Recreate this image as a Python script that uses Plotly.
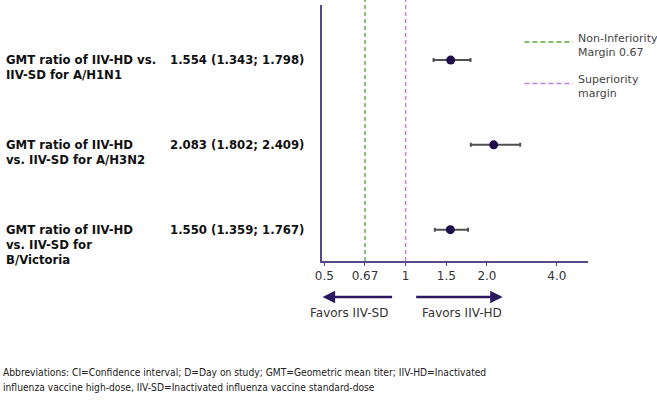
import plotly.graph_objects as go

# ---- data ----
rows = ["A/H1N1", "A/H3N2", "B/Victoria"]
row_labels = [
    "GMT ratio of IIV-HD vs.<br>IIV-SD for A/H1N1",
    "GMT ratio of IIV-HD<br>vs. IIV-SD for A/H3N2",
    "GMT ratio of IIV-HD<br>vs. IIV-SD for<br>B/Victoria",
]
gmt_ratio = [1.554, 2.083, 1.550]
ci_lower = [1.343, 1.802, 1.359]
ci_upper = [1.798, 2.409, 1.767]

tick_text = ["0.5", "0.67", "1", "1.5", "2.0", "4.0"]
tick_pos = [0, 0.5, 1, 1.5, 2, 2.86]

non_inferiority_label = "0.67"
superiority_label = "1"

footnote_lines = [
    "Abbreviations: CI=Confidence interval; D=Day on study; GMT=Geometric mean titer; IIV-HD=Inactivated",
    "influenza vaccine high-dose, IIV-SD=Inactivated influenza vaccine standard-dose",
]

FONT = "DejaVu Sans, Verdana, sans-serif"
FONT_NARROW = "DejaVu Sans Condensed, DejaVu Sans, sans-serif"
AXIS_COLOR = "#56488a"
DARK = "#2a1860"
GREEN = "#5aa83a"
PURPLE = "#c27ddc"

W, H = 657, 404
def px(x):
    return x / W
def py(y):
    return 1 - y / H

fig = go.Figure()

fig.add_trace(go.Scatter(
    x=gmt_ratio, y=rows, mode="markers",
    marker=dict(color="#1f0c4a", size=9),
    error_x=dict(type="data", symmetric=False,
                 array=[u - m for u, m in zip(ci_upper, gmt_ratio)],
                 arrayminus=[m - l for m, l in zip(gmt_ratio, ci_lower)],
                 color="#505050", thickness=2, width=2),
    showlegend=False, hoverinfo="skip",
))

# margin lines
ni_x = tick_pos[tick_text.index(non_inferiority_label)]
sup_x = tick_pos[tick_text.index(superiority_label)]
fig.add_shape(type="line", xref="x", yref="y domain", x0=ni_x, x1=ni_x, y0=0, y1=1.02,
              line=dict(color=GREEN, width=1.4, dash="4px,3px"))
fig.add_shape(type="line", xref="x", yref="y domain", x0=sup_x, x1=sup_x, y0=0, y1=1.02,
              line=dict(color=PURPLE, width=1.4, dash="4px,3px"))

# legend (custom)
fig.add_shape(type="line", xref="paper", yref="paper", x0=px(523), x1=px(572), y0=py(42), y1=py(42),
              line=dict(color=GREEN, width=1.4, dash="5px,3px"))
fig.add_shape(type="line", xref="paper", yref="paper", x0=px(523), x1=px(572), y0=py(83.5), y1=py(83.5),
              line=dict(color=PURPLE, width=1.4, dash="5px,3px"))
fig.add_annotation(x=px(575), y=py(46), xref="paper", yref="paper", xanchor="left", yanchor="middle",
                   text="Non-Inferiority<br>Margin 0.67", showarrow=False, align="left",
                   font=dict(family=FONT, size=11, color="#444444"))
fig.add_annotation(x=px(575), y=py(87), xref="paper", yref="paper", xanchor="left", yanchor="middle",
                   text="Superiority<br>margin", showarrow=False, align="left",
                   font=dict(family=FONT, size=11, color="#444444"))

# row labels and value labels
for r, lab, m, l, u in zip(rows, row_labels, gmt_ratio, ci_lower, ci_upper):
    fig.add_annotation(x=px(-3), y=r, xref="paper", yref="y", xanchor="left", yanchor="top",
                       yshift=9, text="<b>%s</b>" % lab, showarrow=False, align="left",
                       font=dict(family=FONT, size=11.7, color="#111111"))
    fig.add_annotation(x=px(232), y=r, xref="paper", yref="y", xanchor="center", yanchor="middle",
                       yshift=0, text="<b>%.3f (%.3f; %.3f)</b>" % (m, l, u), showarrow=False,
                       font=dict(family=FONT, size=11.7, color="#111111"))

# favors arrows
fig.add_annotation(x=px(319), y=py(297), ax=71, ay=0, xref="paper", yref="paper",
                   axref="pixel", ayref="pixel", showarrow=True, arrowhead=2, arrowsize=1,
                   arrowwidth=2.5, arrowcolor=DARK, text="")
fig.add_annotation(x=px(501), y=py(297), ax=-88, ay=0, xref="paper", yref="paper",
                   axref="pixel", ayref="pixel", showarrow=True, arrowhead=2, arrowsize=1,
                   arrowwidth=2.5, arrowcolor=DARK, text="")
fig.add_annotation(x=px(346), y=py(313), xref="paper", yref="paper", text="Favors IIV-SD",
                   xanchor="center", yanchor="middle",
                   showarrow=False, font=dict(family=FONT, size=12, color="#333333"))
fig.add_annotation(x=px(460), y=py(313), xref="paper", yref="paper", text="Favors IIV-HD",
                   xanchor="center", yanchor="middle",
                   showarrow=False, font=dict(family=FONT, size=12, color="#333333"))

# footnote
for i, line in enumerate(footnote_lines):
    fig.add_annotation(x=px(-6), y=py(372 + 15 * i), xref="paper", yref="paper", xanchor="left",
                       yanchor="middle", align="left", showarrow=False, text=line,
                       font=dict(family=FONT_NARROW, size=10.2, color="#222222"))

fig.update_layout(
    width=W, height=H,
    margin=dict(l=0, r=0, t=0, b=0),
    paper_bgcolor="white", plot_bgcolor="white",
    xaxis=dict(domain=[px(318.3), px(587)], range=[-0.03, 3.24],
               tickvals=tick_pos, ticktext=tick_text,
               showgrid=False, zeroline=False, showline=True, linecolor=AXIS_COLOR, linewidth=2,
               ticks="outside", ticklen=3, tickcolor=AXIS_COLOR,
               tickfont=dict(family=FONT, size=12, color="#333333")),
    yaxis=dict(domain=[py(261), py(5)], range=[2.37, -0.65], type="category",
               categoryorder="array", categoryarray=rows,
               showticklabels=False, showgrid=False, zeroline=False,
               showline=True, linecolor=AXIS_COLOR, linewidth=2, ticks=""),
)

fig.write_html("out.html")
